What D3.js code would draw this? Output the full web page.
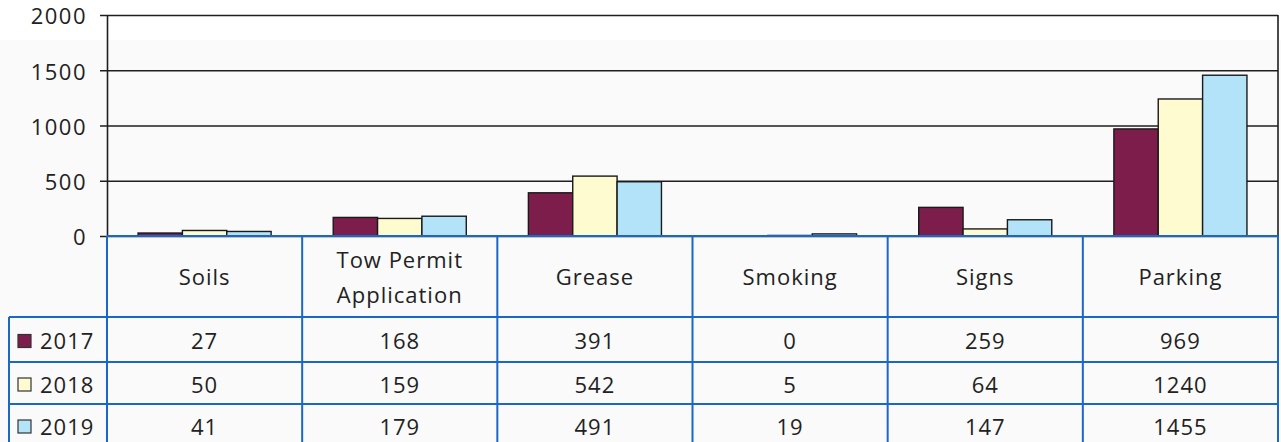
<!DOCTYPE html>
<html>
<head>
<meta charset="utf-8">
<script src="https://cdn.jsdelivr.net/npm/d3@7"></script>
<style>
  body { margin: 0; background: #fafafa; }
  text { font-family: "Open Sans", sans-serif; fill: #222; }
</style>
</head>
<body>
<div id="chart"></div>
<script>
// data
var categories = ["Soils", "Tow Permit Application", "Grease", "Smoking", "Signs", "Parking"];
var seriesNames = ["2017", "2018", "2019"];
var values2017 = [27, 168, 391, 0, 259, 969];
var values2018 = [50, 159, 542, 5, 64, 1240];
var values2019 = [41, 179, 491, 19, 147, 1455];
var yTicks = [0, 500, 1000, 1500, 2000];
var colors = ["#7c1d4c", "#fdfbcf", "#b2e3f8"];

var seriesValues = [values2017, values2018, values2019];

var W = 1281, H = 442;
var plot = { left: 107, right: 1278, top: 15, bottom: 236 };
var rowEdges = [317, 362, 404, 446]; // table row lines below header
var legendLeft = 9;
var tableBlue = "#1b67c9";

var svg = d3.select("#chart").append("svg")
  .attr("width", W)
  .attr("height", H);

// scan has a whiter strip on top
svg.append("rect").attr("width", W).attr("height", 40).attr("fill", "#ffffff");

var x = d3.scaleBand()
  .domain(categories)
  .range([plot.left, plot.right])
  .padding(0);

var xSub = d3.scaleBand()
  .domain(seriesNames)
  .range([0, x.bandwidth()])
  .paddingInner(0)
  .paddingOuter(0.7);

var y = d3.scaleLinear()
  .domain([0, 2000])
  .range([plot.bottom, plot.top]);

// gridlines
svg.append("g")
  .attr("transform", "translate(" + plot.left + ",0)")
  .call(d3.axisLeft(y).tickValues(yTicks).tickSize(-(plot.right - plot.left)).tickFormat(""))
  .call(function (g) {
    g.select(".domain").remove();
    g.selectAll("line").attr("stroke", "#1e1e1e").attr("stroke-width", 1.5);
  });

// y axis with small outer ticks and labels
svg.append("g")
  .attr("transform", "translate(" + plot.left + ",0)")
  .call(d3.axisLeft(y).tickValues(yTicks).tickFormat(d3.format("d"))
    .tickSize(7).tickPadding(13).tickSizeOuter(0))
  .call(function (g) {
    g.select(".domain").attr("stroke", "#1e1e1e").attr("stroke-width", 1.6);
    g.selectAll("line").attr("stroke", "#1e1e1e").attr("stroke-width", 1.5);
    g.selectAll("text")
      .attr("dy", "0.4em")
      .style("font-family", "'Open Sans', sans-serif")
      .style("font-size", "22px")
      .style("letter-spacing", "1.5px")
      .attr("fill", "#222");
  });

// right border of plot
svg.append("line")
  .attr("x1", plot.right).attr("x2", plot.right)
  .attr("y1", y(2000)).attr("y2", y(0))
  .attr("stroke", "#1e1e1e").attr("stroke-width", 1.6);

// bars
var groups = svg.append("g").selectAll("g")
  .data(categories)
  .enter()
  .append("g")
  .attr("transform", function (d) { return "translate(" + x(d) + ",0)"; });

groups.selectAll("rect")
  .data(function (d, i) {
    return seriesNames.map(function (s, j) {
      return { series: s, value: seriesValues[j][i], color: colors[j] };
    });
  })
  .enter()
  .append("rect")
  .attr("x", function (d) { return xSub(d.series); })
  .attr("width", xSub.bandwidth())
  .attr("y", function (d) { return y(d.value); })
  .attr("height", function (d) { return y(0) - y(d.value); })
  .attr("fill", function (d) { return d.color; })
  .attr("stroke", "#1a1a1a")
  .attr("stroke-width", 1.4);

// data table
var table = svg.append("g");

// horizontal lines
table.append("line")
  .attr("x1", plot.left).attr("x2", plot.right)
  .attr("y1", plot.bottom).attr("y2", plot.bottom)
  .attr("stroke", tableBlue).attr("stroke-width", 2);
rowEdges.forEach(function (ry) {
  table.append("line")
    .attr("x1", legendLeft).attr("x2", plot.right)
    .attr("y1", ry).attr("y2", ry)
    .attr("stroke", tableBlue).attr("stroke-width", 2);
});

// vertical lines
var colEdges = categories.map(function (c) { return x(c); }).concat([plot.right]);
colEdges.forEach(function (cx) {
  table.append("line")
    .attr("x1", cx).attr("x2", cx)
    .attr("y1", plot.bottom).attr("y2", H)
    .attr("stroke", tableBlue).attr("stroke-width", 2);
});
table.append("line")
  .attr("x1", legendLeft).attr("x2", legendLeft)
  .attr("y1", rowEdges[0]).attr("y2", H)
  .attr("stroke", tableBlue).attr("stroke-width", 2);

// category labels
var headerMid = (plot.bottom + rowEdges[0]) / 2;
categories.forEach(function (c) {
  var lines = c === "Tow Permit Application" ? ["Tow Permit", "Application"] : [c];
  var t = table.append("text")
    .attr("text-anchor", "middle")
    .style("font-size", "22px")
    .style("letter-spacing", "1px");
  lines.forEach(function (ln, k) {
    t.append("tspan")
      .attr("x", x(c) + x.bandwidth() / 2)
      .attr("y", headerMid + 1 + (k - (lines.length - 1) / 2) * 35)
      .attr("dy", "0.35em")
      .text(ln);
  });
});

// value rows with legend keys
seriesNames.forEach(function (s, j) {
  var top = rowEdges[j];
  var bottom = j + 1 < rowEdges.length ? rowEdges[j + 1] : H + 6;
  var mid = (top + bottom) / 2 + 2;

  table.append("rect")
    .attr("x", 18).attr("y", mid - 7)
    .attr("width", 13).attr("height", 13)
    .attr("fill", colors[j])
    .attr("stroke", "#333").attr("stroke-width", 1.2);
  table.append("text")
    .attr("x", 40).attr("y", mid).attr("dy", "0.35em")
    .style("font-size", "22px")
    .style("letter-spacing", "1px")
    .text(s);

  categories.forEach(function (c, i) {
    table.append("text")
      .attr("x", x(c) + x.bandwidth() / 2)
      .attr("y", mid).attr("dy", "0.35em")
      .attr("text-anchor", "middle")
      .style("font-size", "22px")
      .style("letter-spacing", "1px")
      .text(seriesValues[j][i]);
  });
});
</script>
</body>
</html>
